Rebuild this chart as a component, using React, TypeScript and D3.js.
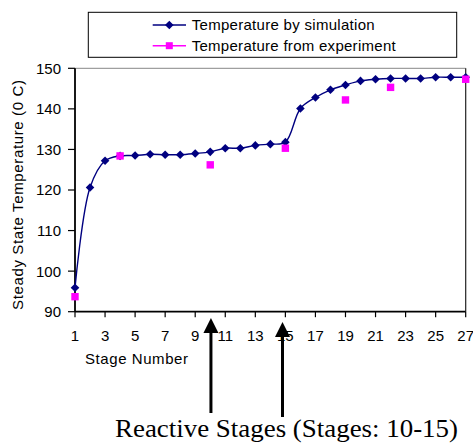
import React from "react";
import * as d3 from "d3";

// Stage numbers along the column
const stages = [1, 2, 3, 4, 5, 6, 7, 8, 9, 10, 11, 12, 13, 14, 15, 16, 17, 18, 19, 20, 21, 22, 23, 24, 25, 26, 27];
// Simulated steady-state temperature per stage (°C)
const simTemps = [95.9, 120.6, 127.2, 128.4, 128.5, 128.8, 128.7, 128.7, 129.0, 129.4, 130.3, 130.3, 131.0, 131.3, 131.8, 140.1, 142.8, 144.7, 145.9, 146.9, 147.3, 147.5, 147.5, 147.5, 147.8, 147.8, 147.8];
// Measured temperatures at sampled stages
const expStages = [1, 4, 10, 15, 19, 22, 27];
const expTemps = [93.7, 128.4, 126.2, 130.3, 142.2, 145.3, 147.3];

const xTicks = [1, 3, 5, 7, 9, 11, 13, 15, 17, 19, 21, 23, 25, 27];
const yTicks = [90, 100, 110, 120, 130, 140, 150];
const reactiveStages = [10, 15];

const legendLabels = ["Temperature by simulation", "Temperature from experiment"];

const W = 473;
const H = 445;
const SANS = "'Liberation Sans', Arial, sans-serif";
const SERIF = "'Liberation Serif', 'Times New Roman', serif";
const NAVY = "#000080";
const PINK = "#FF00FF";

export default function App() {
  const x = d3.scaleLinear().domain([1, 27]).range([75, 465.7]);
  const y = d3.scaleLinear().domain([90, 150]).range([311.7, 68.3]);

  const simData = stages.map((s, i) => [s, simTemps[i]] as [number, number]);
  const expData = expStages.map((s, i) => [s, expTemps[i]] as [number, number]);

  const line = d3
    .line<[number, number]>()
    .x((d) => x(d[0]))
    .y((d) => y(d[1]))
    .curve(d3.curveCatmullRom.alpha(0.5));

  const diamond = (cx: number, cy: number, r: number) =>
    `M${cx},${cy - r}L${cx + r},${cy}L${cx},${cy + r}L${cx - r},${cy}Z`;

  const [x0, x1] = x.range();
  const [yb, yt] = y.range();

  // Arrow geometry for the reactive-stage markers
  const arrowTips = [318, 322];
  const arrowBottoms = [413, 417];
  const arrowXOffset = [0.7, -2.9];
  const legendWidths = [183, 204];

  return (
    <svg
      width={W}
      height={H}
      style={{ position: "absolute", left: 0, top: 0, background: "#fff" }}
    >
      {/* legend */}
      <rect x={88.3} y={12.3} width={368.4} height={45} fill="#fff" stroke="#000" strokeWidth={1} />
      {legendLabels.map((lab, i) => {
        const cy = i === 0 ? 25 : 45.7;
        const col = i === 0 ? NAVY : PINK;
        return (
          <g key={lab}>
            <line x1={152.7} x2={186} y1={cy} y2={cy} stroke={col} strokeWidth={1.5} />
            {i === 0 ? (
              <path d={diamond(169.3, cy, 4.3)} fill={NAVY} />
            ) : (
              <rect x={169.3 - 3.5} y={cy - 3.5} width={7} height={7} fill={PINK} />
            )}
            <text
              x={191.7}
              y={cy}
              dy="0.36em"
              fontFamily={SANS}
              fontSize={15}
              fill="#000"
              textLength={legendWidths[i]}
              lengthAdjust="spacing"
            >
              {lab}
            </text>
          </g>
        );
      })}

      {/* plot frame */}
      <line x1={x0} x2={x1} y1={yt} y2={yt} stroke="#888" strokeWidth={1} />
      <line x1={x1} x2={x1} y1={yt} y2={yb} stroke="#222" strokeWidth={1.2} />

      {/* y axis */}
      <line x1={x0} x2={x0} y1={yt} y2={yb} stroke="#000" strokeWidth={1.8} />
      {yTicks.map((t) => (
        <g key={t}>
          <line x1={x0 - 7} x2={x0} y1={y(t)} y2={y(t)} stroke="#000" strokeWidth={1.2} />
          <text
            x={61}
            y={y(t)}
            dy="0.36em"
            textAnchor="end"
            fontFamily={SANS}
            fontSize={15}
            fill="#000"
          >
            {t}
          </text>
        </g>
      ))}
      <text
        transform={`translate(18,195) rotate(-90)`}
        textAnchor="middle"
        dy="0.36em"
        fontFamily={SANS}
        fontSize={15}
        fill="#000"
        textLength={230}
        lengthAdjust="spacing"
      >
        Steady State Temperature (0 C)
      </text>

      {/* x axis */}
      <line x1={x0} x2={x1} y1={yb} y2={yb} stroke="#000" strokeWidth={1.8} />
      {xTicks.map((t) => (
        <g key={t}>
          <line x1={x(t)} x2={x(t)} y1={yb} y2={yb + 5.5} stroke="#000" strokeWidth={1.2} />
          <text x={x(t)} y={341} textAnchor="middle" fontFamily={SANS} fontSize={15} fill="#000">
            {t}
          </text>
        </g>
      ))}
      <text
        x={85}
        y={363.5}
        fontFamily={SANS}
        fontSize={15}
        fill="#000"
        textLength={103}
        lengthAdjust="spacing"
      >
        Stage Number
      </text>

      {/* simulation series */}
      <path d={line(simData) || ""} fill="none" stroke={NAVY} strokeWidth={1.4} />
      {simData.map((d) => (
        <path key={`s${d[0]}`} d={diamond(x(d[0]), y(d[1]), 4.3)} fill={NAVY} />
      ))}

      {/* experiment series */}
      {expData.map((d) => (
        <rect
          key={`e${d[0]}`}
          x={x(d[0]) - 3.7}
          y={y(d[1]) - 3.7}
          width={7.4}
          height={7.4}
          fill={PINK}
        />
      ))}

      {/* reactive stage arrows */}
      {reactiveStages.map((s, i) => {
        const ax = x(s) + arrowXOffset[i];
        const tip = arrowTips[i];
        const bot = arrowBottoms[i];
        return (
          <g key={`a${s}`}>
            <line x1={ax} x2={ax} y1={tip + 12} y2={bot} stroke="#000" strokeWidth={3} />
            <path d={`M${ax},${tip}L${ax + 7.5},${tip + 15}L${ax - 7.5},${tip + 15}Z`} fill="#000" />
          </g>
        );
      })}
      <text
        x={115}
        y={436.7}
        fontFamily={SERIF}
        fontSize={25}
        fill="#000"
        textLength={343}
        lengthAdjust="spacingAndGlyphs"
      >
        Reactive Stages (Stages: 10-15)
      </text>
    </svg>
  );
}
